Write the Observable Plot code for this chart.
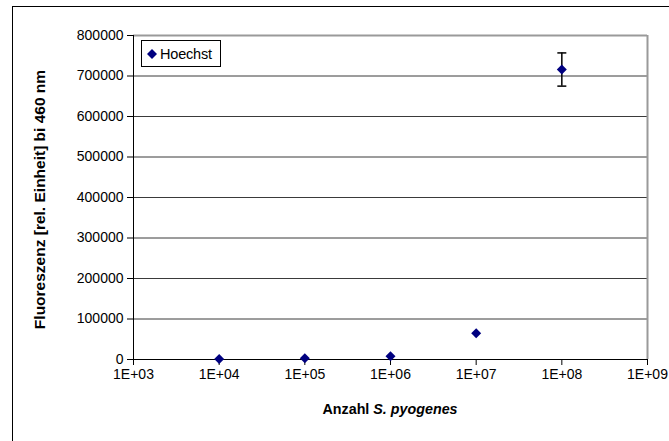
<!DOCTYPE html>
<html>
<head>
<meta charset="utf-8">
<script src="https://cdn.jsdelivr.net/npm/d3@7"></script>
<script src="https://cdn.jsdelivr.net/npm/@observablehq/plot@0.6"></script>
<style>
  body { margin: 0; background: #fff; }
  #chart { position: relative; width: 669px; height: 441px; font-family: "Liberation Sans", Arial, sans-serif; overflow: hidden; }
  #chart > svg { position: absolute; left: 0; top: 0; }
  .outer { position: absolute; left: 12px; top: 6px; right: -2px; bottom: -2px; border-left: 1px solid #000; border-top: 1px solid #000; }
  .legend { position: absolute; left: 141px; top: 40px; width: 78px; height: 25px; border: 1px solid #000; background: #fff; display: flex; align-items: center; font-size: 14.5px; color: #000; letter-spacing: -0.2px; }
  .legend svg { display: block; margin: 0 3px 0 5px; }
  .xtitle { position: absolute; left: 133px; width: 514px; top: 401px; text-align: center; font-weight: bold; font-size: 14.3px; color: #000; }
</style>
</head>
<body>
<div id="chart"></div>
<script>
// Hoechst fluorescence versus number of S. pyogenes cells
const seriesName = "Hoechst";
const cellCounts = [1e4, 1e5, 1e6, 1e7, 1e8];
const fluorescence = [1000, 3000, 8000, 65000, 716000];
const errorValues = [0, 0, 0, 0, 41000];
const xTicks = [1e3, 1e4, 1e5, 1e6, 1e7, 1e8, 1e9];
const yTicks = [0, 100000, 200000, 300000, 400000, 500000, 600000, 700000, 800000];
const yTitle = "Fluoreszenz [rel. Einheit] bi 460 nm";

const rows = cellCounts.map((x, i) => ({x, y: fluorescence[i], e: errorValues[i]}));
const errRows = rows.filter(d => d.e > 0);

// short horizontal stroke used as the error bar caps
const capSymbol = {
  draw(context) {
    context.moveTo(-4.5, 0);
    context.lineTo(4.5, 0);
  }
};

const yMax = yTicks[yTicks.length - 1];
const xMin = xTicks[0], xMax = xTicks[xTicks.length - 1];

const plot = Plot.plot({
  width: 669,
  height: 441,
  marginLeft: 133,
  marginRight: 22,
  marginTop: 35,
  marginBottom: 82,
  style: {fontFamily: "'Liberation Sans', Arial, sans-serif", fontSize: "14px", color: "#000", background: "transparent"},
  x: {type: "log", domain: [xMin, xMax]},
  y: {domain: [0, yMax]},
  marks: [
    Plot.ruleY(yTicks.filter(d => d > 0 && d < yMax), {stroke: "#3a3a3a", strokeWidth: 1}),
    Plot.ruleY([yMax], {stroke: "#9a9a9a", strokeWidth: 2}),
    Plot.ruleX([xMax], {stroke: "#9a9a9a", strokeWidth: 2}),
    Plot.ruleX([xMin], {stroke: "#000", strokeWidth: 1}),
    Plot.ruleY([0], {stroke: "#000", strokeWidth: 1}),
    Plot.axisY({ticks: yTicks, tickFormat: d => String(d), tickSize: 6, tickPadding: 4, label: null, fontSize: 14}),
    Plot.axisX({ticks: xTicks, tickFormat: d => "1E+" + String(Math.round(Math.log10(d))).padStart(2, "0"), tickSize: 6, tickPadding: 4, label: null, fontSize: 14}),
    Plot.text([yTitle], {frameAnchor: "left", rotate: -90, textAnchor: "middle", dx: -93, dy: 2, text: d => d, fontWeight: "bold", fontSize: 15.5}),
    Plot.ruleX(errRows, {x: "x", y1: d => d.y - d.e, y2: d => d.y + d.e, stroke: "#000", strokeWidth: 1.5}),
    Plot.dot(errRows, {x: "x", y: d => d.y + d.e, symbol: capSymbol, stroke: "#000", strokeWidth: 1.5}),
    Plot.dot(errRows, {x: "x", y: d => d.y - d.e, symbol: capSymbol, stroke: "#000", strokeWidth: 1.5}),
    Plot.dot(rows, {x: "x", y: "y", symbol: "diamond2", r: 4.5, fill: "#000080", stroke: "none"})
  ]
});

const chart = document.getElementById("chart");
chart.appendChild(plot);

const outer = document.createElement("div");
outer.className = "outer";
chart.appendChild(outer);

const legend = document.createElement("div");
legend.className = "legend";
legend.innerHTML = '<svg width="10" height="10" viewBox="-5 -5 10 10"><path d="M0,-5L5,0L0,5L-5,0Z" fill="#000080"/></svg><span></span>';
legend.querySelector("span").textContent = seriesName;
chart.appendChild(legend);

const xTitle = document.createElement("div");
xTitle.className = "xtitle";
xTitle.innerHTML = 'Anzahl <i>S. pyogenes</i>';
chart.appendChild(xTitle);
</script>
</body>
</html>
